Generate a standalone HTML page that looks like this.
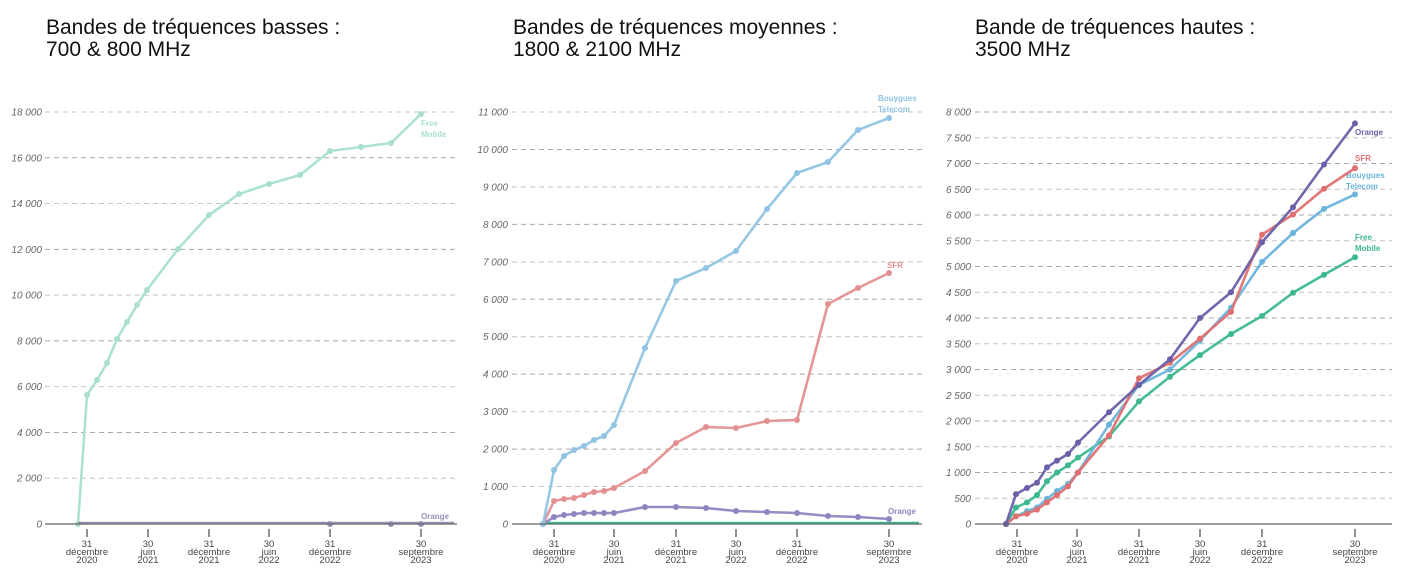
<!DOCTYPE html>
<html><head><meta charset="utf-8"><style>
body{margin:0;background:#fff;width:1408px;height:580px;overflow:hidden}
svg{display:block}
.t{font-family:"Liberation Sans",sans-serif;font-size:21px;fill:#111}
.yl{font-family:"Liberation Sans",sans-serif;font-size:10px;font-style:italic;fill:#666;text-anchor:end}
.xl{font-family:"Liberation Sans",sans-serif;font-size:9.5px;fill:#444;text-anchor:middle}
.lb{font-family:"Liberation Sans",sans-serif;font-size:8px;font-weight:bold}
</style></head><body>
<svg id="s" width="1408" height="580" xmlns="http://www.w3.org/2000/svg">
<text class="t" x="46" y="34">Bandes de tréquences basses :</text>
<text class="t" x="46" y="56">700 &amp; 800 MHz</text>
<text class="t" x="513" y="34">Bandes de tréquences moyennes :</text>
<text class="t" x="513" y="56">1800 &amp; 2100 MHz</text>
<text class="t" x="975" y="34">Bande de tréquences hautes :</text>
<text class="t" x="975" y="56">3500 MHz</text>
</svg>
<script>
var S=document.getElementById('s'),NS='http://www.w3.org/2000/svg';
function el(n,a,t){var e=document.createElementNS(NS,n);for(var k in a)e.setAttribute(k,a[k]);if(t!=null)e.textContent=t;S.appendChild(e);return e;}
function fmt(v){var s=String(v);return s.length>3?s.slice(0,s.length-3)+' '+s.slice(-3):s;}
var charts=[
{x0:45,x1:457,lx:42,max:18000,step:2000,top:112,ticks:[[87,'31','décembre','2020'],[148,'30','juin','2021'],[209,'31','décembre','2021'],[269,'30','juin','2022'],[330,'31','décembre','2022'],[421,'30','septembre','2023']],
 xs:[78,87,97,107,117,127,137,147,178,209,239,269,300,330,361,391,421],
 series:[
 {c:'#a8e0cc',ys:[524,395,380,363,339,322,305,290,249,215,194,184,175,151,147,143,114],px:true,lab:['Free','Mobile'],lx:421,ly:126},
 {c:'#9a90b8',ys:null,zero:true,pts:[330,391,421],lab:['Orange'],lx:421,ly:519}]},
{x0:512,x1:922,lx:508,max:11000,step:1000,top:112,ticks:[[554,'31','décembre','2020'],[614,'30','juin','2021'],[676,'31','décembre','2021'],[736,'30','juin','2022'],[797,'31','décembre','2022'],[889,'30','septembre','2023']],
 xs:[543,554,564,574,584,594,604,614,645,676,706,736,767,797,828,858,889],
 series:[
 {c:'#3cb88e',zero:true,pts:[]},
 {c:'#8e86c0',ys:[524,517,515,514,513,513,513,513,507,507,508,511,512,513,516,517,519],px:true,lab:['Orange'],lx:888,ly:514},
 {c:'#e39090',ys:[524,501,499,498,495,492,491,488,471,443,427,428,421,420,304,288,273],px:true,lab:['SFR'],lx:887,ly:268},
 {c:'#90c4e4',ys:[524,470,456,450,446,440,436,425,348,281,268,251,209,173,162,130,118],px:true,lab:['Bouygues','Telecom'],lx:878,ly:101}]},
{x0:975,x1:1392,lx:971,max:8000,step:500,top:112,ticks:[[1017,'31','décembre','2020'],[1077,'30','juin','2021'],[1139,'31','décembre','2021'],[1200,'30','juin','2022'],[1262,'31','décembre','2022'],[1355,'30','septembre','2023']],
 xs:[1006,1016,1027,1037,1047,1057,1068,1078,1109,1139,1170,1200,1231,1262,1293,1324,1355],
 series:[
 {c:'#3cb88e',v:[0,320,420,560,830,1000,1140,1290,1700,2380,2860,3280,3690,4040,4490,4840,5180],lab:['Free','Mobile'],lx:1355,ly:240},
 {c:'#6ab4dc',v:[0,150,250,320,490,640,780,1000,1930,2700,3000,3560,4200,5090,5650,6120,6400],lab:['Bouygues','Telecom'],lx:1346,ly:178},
 {c:'#e07070',v:[0,150,200,280,420,560,730,1000,1720,2830,3130,3600,4120,5620,6010,6510,6910],lab:['SFR'],lx:1355,ly:161},
 {c:'#6a5fa8',v:[0,580,700,800,1100,1230,1360,1580,2170,2700,3200,4000,4500,5470,6150,6980,7780],lab:['Orange'],lx:1355,ly:135}]}
];
charts.forEach(function(C){
 var b=524,h=b-C.top;
 for(var v=0;v<=C.max;v+=C.step){var y=b-h*v/C.max;
  if(v>0)el('line',{x1:C.x0,x2:C.x1,y1:y,y2:y,stroke:(v/C.step)%2?'#c4c4c4':'#a8a8a8','stroke-dasharray':'5,4','stroke-width':1});
  el('text',{class:'yl',x:C.lx,y:y+3.5},fmt(v));}
 C.ticks.forEach(function(t){el('line',{x1:t[0],x2:t[0],y1:529,y2:537,stroke:'#555','stroke-width':1.3});
  el('text',{class:'xl',x:t[0],y:547},t[1]);el('text',{class:'xl',x:t[0],y:555},t[2]);el('text',{class:'xl',x:t[0],y:563},t[3]);});
 C.series.forEach(function(s){
  if(s.zero){el('line',{x1:C.xs[0],x2:C.x1-3,y1:b-1,y2:b-1,stroke:s.c,'stroke-width':2.5});
   s.pts.forEach(function(x){el('circle',{cx:x,cy:b,r:3,fill:s.c});});}
  else{var ys=s.ys||s.v.map(function(v){return b-h*v/C.max;});
   var p=C.xs.map(function(x,i){return x+','+ys[i];}).join(' ');
   el('polyline',{points:p,fill:'none',stroke:s.c,'stroke-width':2.6,'stroke-linejoin':'round','stroke-opacity':0.95});
   C.xs.forEach(function(x,i){el('circle',{cx:x,cy:ys[i],r:3,fill:s.c});});}
  if(s.lab)s.lab.forEach(function(l,i){el('text',{class:'lb',x:s.lx,y:s.ly+i*11,fill:s.c},l);});
 });
 el('line',{x1:C.x0,x2:C.x1,y1:b,y2:b,stroke:'#666','stroke-width':1.2});
});
</script>
</body></html>
